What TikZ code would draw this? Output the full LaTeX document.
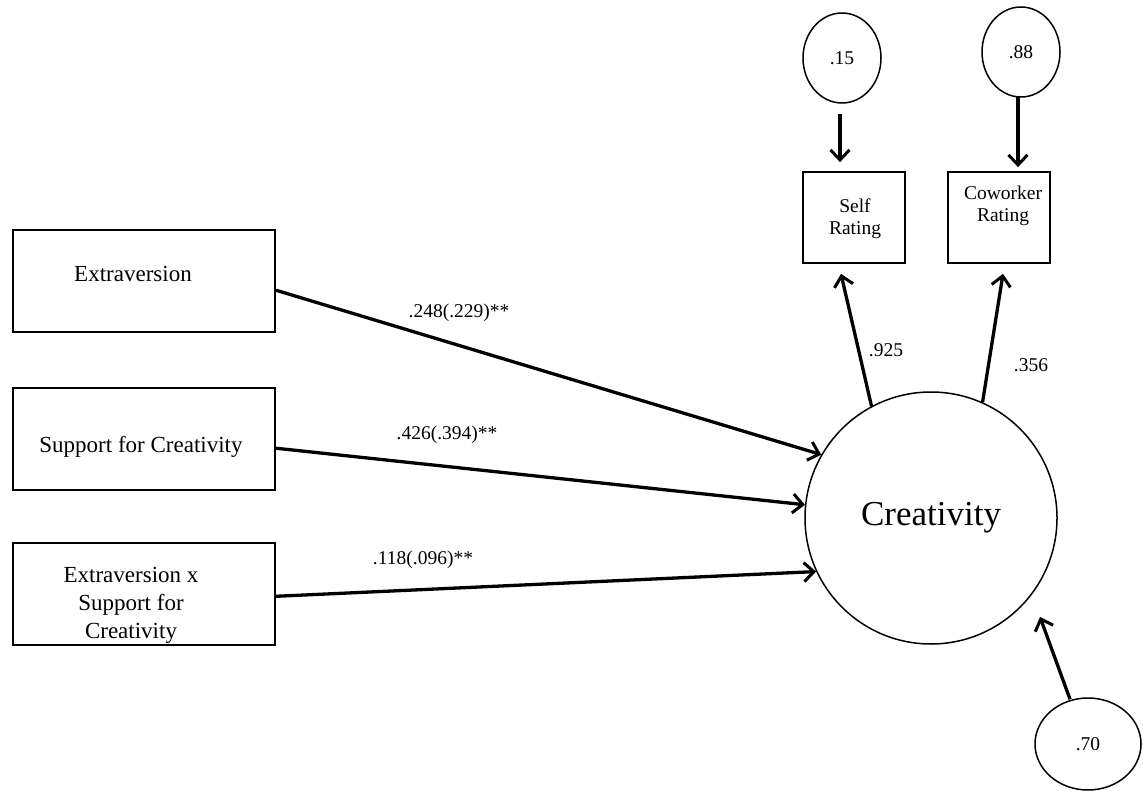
\documentclass[tikz,border=0pt]{standalone}
\usepackage{fontspec}
\setmainfont{Liberation Serif}
\usetikzlibrary{arrows.meta,shapes.geometric,calc}
\tikzset{
  box/.style={draw=black, line width=1.8pt, rectangle, inner sep=0pt},
  ell/.style={draw=black, line width=1.5pt, ellipse, inner sep=0pt},
  conn/.style={line width=3.3pt, -{Straight Barb[length=10pt,width=19pt,line width=3pt]}},
  boxtxt/.style={font=\fontsize{23}{28}\selectfont, align=center},
  smalltxt/.style={font=\fontsize{19.5}{22}\selectfont, align=center},
  coef/.style={font=\fontsize{19.5}{22}\selectfont, inner sep=0pt}
}
\begin{document}
\begin{tikzpicture}[x=1pt,y=-1pt]
\useasboundingbox (0,0) rectangle (1143,791);
% left boxes
\node[box, minimum width=262pt, minimum height=102pt,
  label={[boxtxt, xshift=-11pt, yshift=7pt]center:Extraversion}] (ext) at (144,281) {};
\node[box, minimum width=262pt, minimum height=102pt,
  label={[boxtxt, xshift=-3pt, yshift=-8pt]center:Support for Creativity}] (sup) at (144,439) {};
\node[box, minimum width=262pt, minimum height=102pt,
  label={[boxtxt, xshift=-13pt, yshift=-11pt]center:Extraversion x\\Support for\\Creativity}] (int) at (144,594) {};
% Creativity
\node[circle, draw=black, line width=1.5pt, minimum size=252pt, inner sep=0pt,
  font=\fontsize{35}{40}\selectfont] (cre) at (931,518) {Creativity};
% indicators
\node[box, minimum width=102pt, minimum height=91pt,
  label={[smalltxt, xshift=1pt, yshift=-1pt]center:Self\\Rating}] (self) at (854,217.5) {};
\node[box, minimum width=102pt, minimum height=91pt,
  label={[smalltxt, xshift=4pt, yshift=12pt]center:Coworker\\Rating}] (cow) at (999,217.5) {};
% errors
\node[ell, minimum width=78pt, minimum height=90pt, font=\fontsize{19.5}{22}\selectfont] (e15) at (842,58) {.15};
\node[ell, minimum width=78pt, minimum height=90pt, font=\fontsize{19.5}{22}\selectfont] (e88) at (1021,52) {.88};
\node[ell, minimum width=106pt, minimum height=92pt, font=\fontsize{19.5}{22}\selectfont] (e70) at (1088,744) {.70};
% paths
\draw[conn] (ext.-4.4) -- (cre.150);
\draw[conn] (sup.-4.4) -- (cre.174);
\draw[conn] (int.-1.3) -- (cre.205);
\draw[conn] (cre.118) -- ($(self.south)+(-13,10)$);
\draw[conn] (cre.66.6) -- ($(cow.south)+(4,10)$);
\draw[conn] ($(e15.south)+(-2,10)$) -- ($(self.north)+(-14,-9)$);
\draw[conn] ($(e88.south)+(-3,-2)$) -- ($(cow.north)+(19,-4)$);
\draw[conn] ($(e70.north)+(-18,2)$) -- ($(cre.center)+(109,99)$);
% coefficients
\node[coef] (c1) at (459,313) {.248(.229)**};
\node[coef] (c2) at (447,435) {.426(.394)**};
\node[coef] (c3) at (423,560) {.118(.096)**};
\node[coef] (c4) at (886,350) {.925};
\node[coef] (c5) at (1031,365) {.356};
\end{tikzpicture}
\end{document}
